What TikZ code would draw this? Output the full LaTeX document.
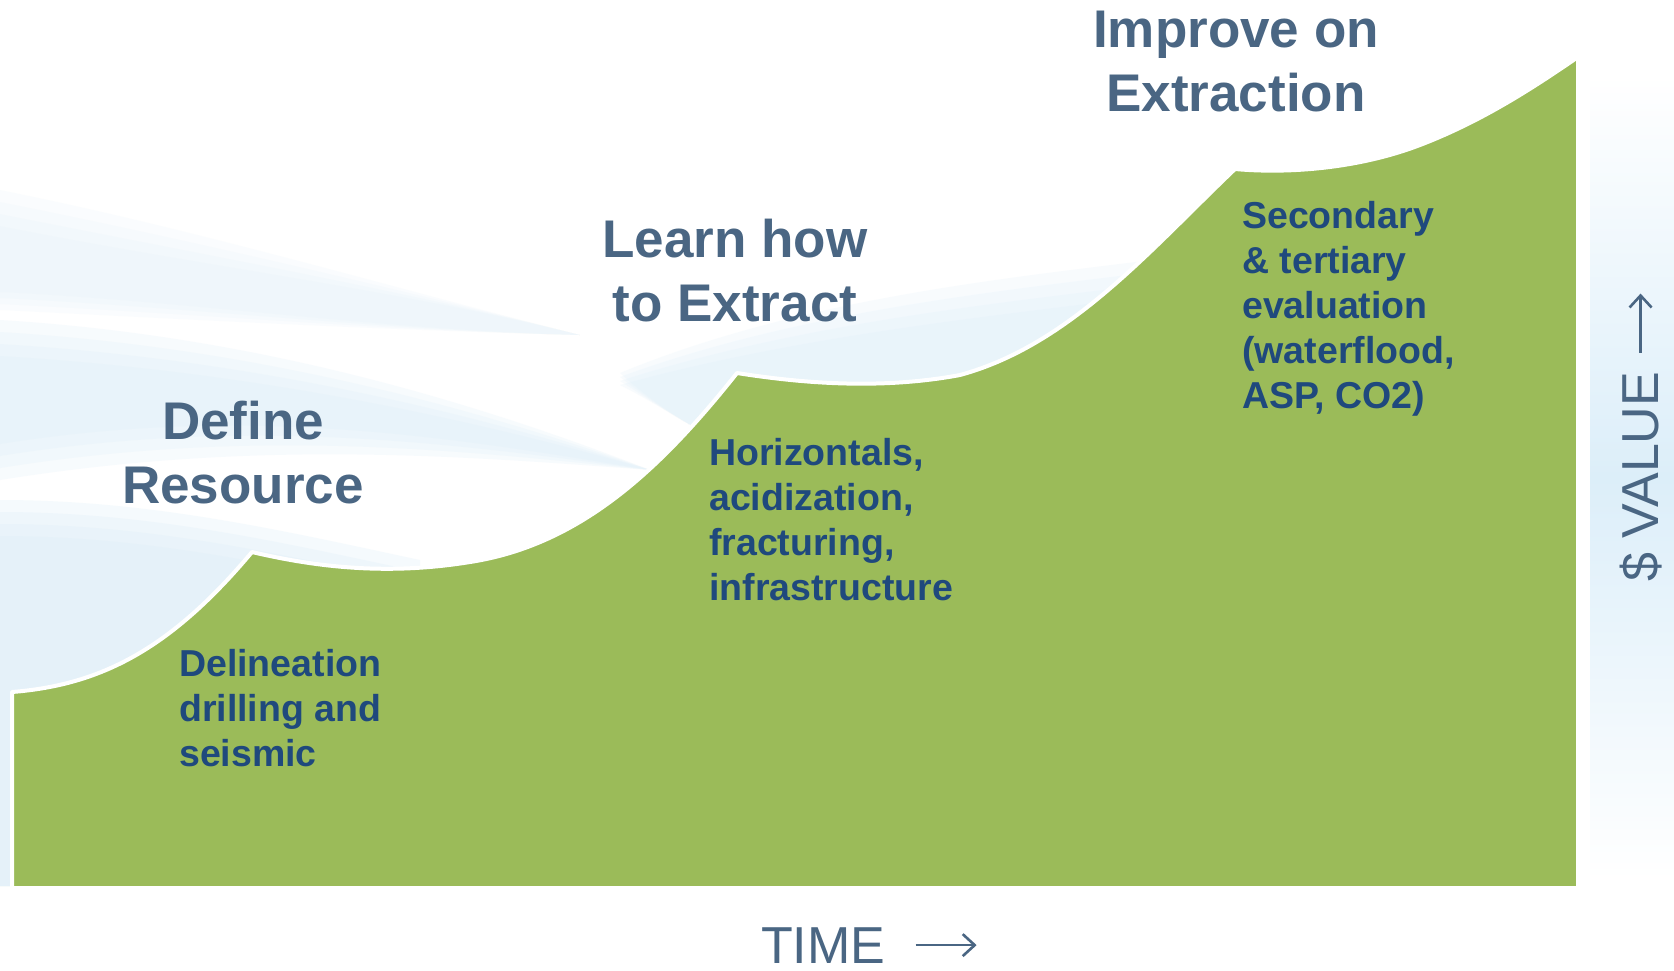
\documentclass[tikz,border=0pt]{standalone}
\usepackage{fontspec}
\setmainfont{Liberation Sans}
\usetikzlibrary{positioning, arrows.meta}
\definecolor{leafgreen}{HTML}{9BBB59}
\definecolor{slate}{HTML}{4A6683}
\definecolor{navy}{HTML}{1F497D}
\definecolor{haze}{HTML}{DCEEF9}
\tikzset{
stage/.style={
  text=slate,
  font=\bfseries\fontsize{53}{64}\selectfont,
  align=center,
  anchor=north,
  inner sep=0pt
 },
detail/.style={
  text=navy,
  font=\bfseries\fontsize{37.5}{45}\selectfont,
  align=left,
  anchor=north west,
  inner sep=0pt
 },
axislbl/.style={text=slate, font=\fontsize{52}{60}\selectfont, inner sep=0pt},
axisarrow/.style={draw=slate, line width=2.6pt, -{Straight Barb[length=12pt,width=22pt]}}
}

\begin{document}
\begin{tikzpicture}[x=1pt,y=-1pt,
streak/.style={fill=haze, draw=none, opacity=#1},
hill/.style={fill=leafgreen, draw=white, line width=4pt, line join=round}]

 \useasboundingbox (0,0) rectangle (1674,970);
 \fill[white] (0,0) rectangle (1674,970);
 % soft background
 \foreach \d in {0,12,24,36}
 {\fill[streak=.12] (0,{190+\d}) .. controls (200,{230+\d}) and (400,290) .. (580,335) .. controls (380,330) and (200,{320-\d/2}) .. (0,{310-\d/2}) -- cycle;
  \fill[streak=.22] (0,{320+\d}) .. controls (250,{335+\d}) and (470,{400+\d/2}) .. (650,470) .. controls (450,{455-\d/2}) and (250,{440-\d}) .. (0,{480-\d}) -- cycle;
  \fill[streak=.27] (0,{500+\d}) .. controls (150,{500+\d}) and (280,{530+\d}) .. (420,{560+\d}) -- (420,886) -- (0,886) -- cycle;
  \fill[streak=.2] (620,{385-\d/3}) .. controls (800,{335-\d}) and (1000,{315-\d}) .. (1160,{295-\d}) -- (1160,430) -- (700,430) .. controls (680,420) and (650,400) .. (620,{385-\d/3}) -- cycle;
 }
 \shade[top color=white,bottom color=white,middle color=haze] (1590,75) rectangle (1674,880);

 \path[hill] (12,692) .. controls (100,685) and (170,650) .. (252,552)
  .. controls (320,568) and (390,575) .. (470,562)
  .. controls (580,545) and (660,470) .. (737,373)
  .. controls (800,383) and (880,390) .. (960,375)
  .. controls (1070,345) and (1150,250) .. (1235,169)
  .. controls (1290,174) and (1360,168) .. (1420,145)
  .. controls (1480,122) and (1530,90) .. (1578,57)
  -- (1578,888) -- (12,888) -- cycle;

 \node[stage] (defineT) at (243,401) {Define\\Resource};
 \node[stage] (learnT) at (735,219) {Learn how\\to Extract};
 \node[stage] (improveT) at (1236,11) {Improve on\\Extraction};

 \node[detail] (delinD) at (179,649) {Delineation\\drilling and\\seismic};
 \node[detail] (horizD) at (709,438) {Horizontals,\\acidization,\\fracturing,\\infrastructure};
 \node[detail] (secD) at (1242,201) {Secondary\\\& tertiary\\evaluation\\(waterflood,\\ASP, CO2)};

 \node[axislbl, anchor=base west] (timeL) at (761,963) {TIME};
 \coordinate (timeTip) at ([xshift=91pt]timeL.east);
 \draw[axisarrow, shorten <=30pt] (timeL.east) -- (timeTip);

 \node[axislbl, anchor=base west, rotate=90] (valueL) at (1658,582) {\$ VALUE};
 \coordinate (valueTip) at ([yshift=78pt]valueL.east);
 \draw[axisarrow, shorten <=19pt] (valueL.east) -- (valueTip);
\end{tikzpicture}
\end{document}
